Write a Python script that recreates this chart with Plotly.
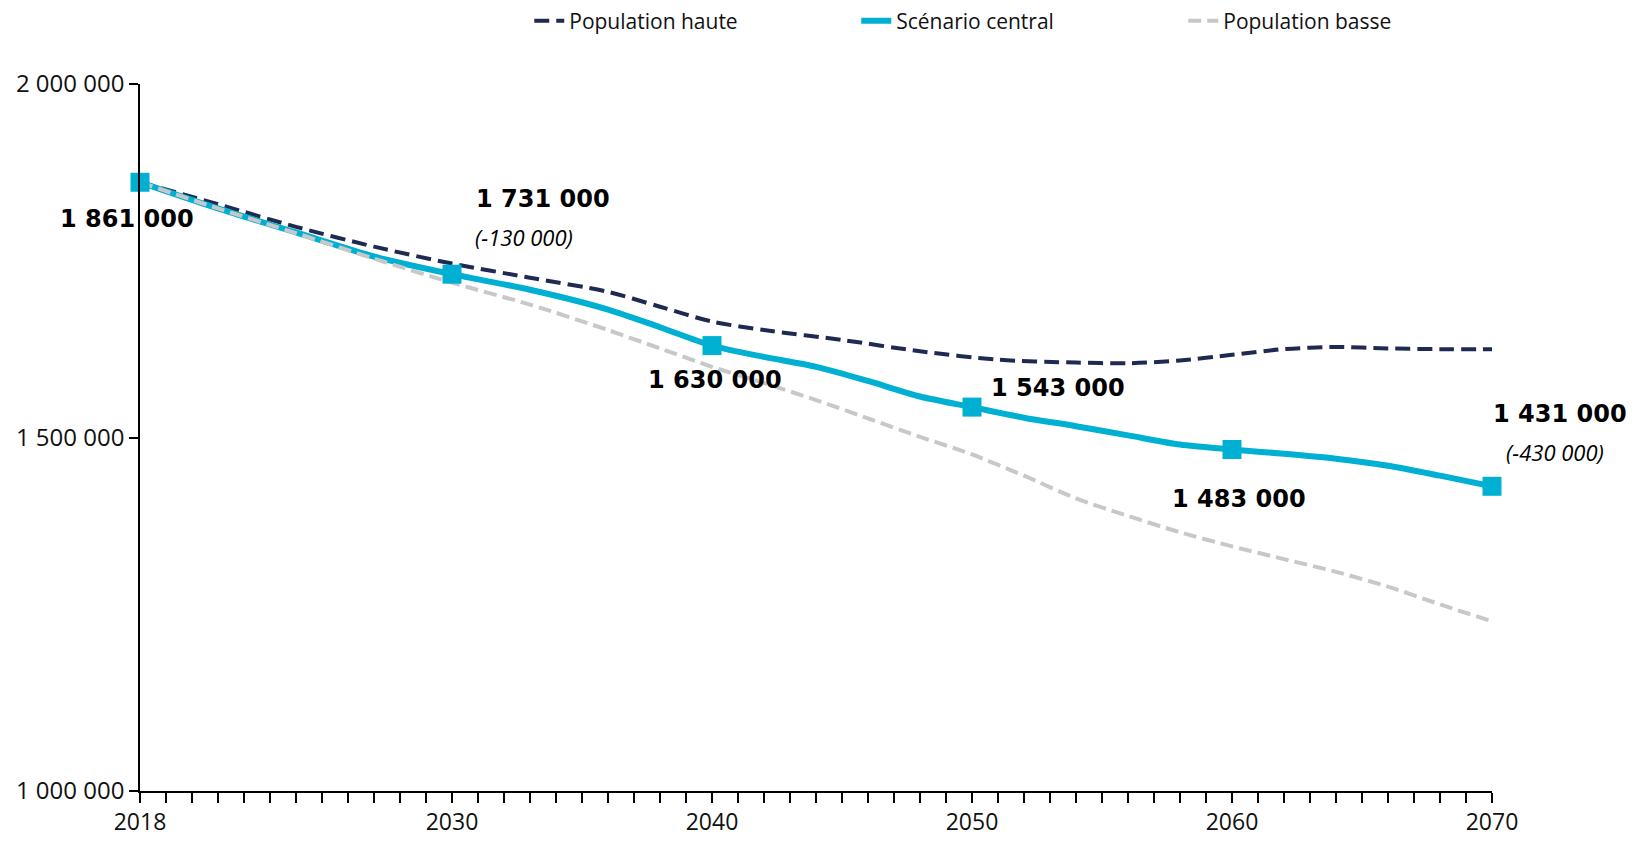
import plotly.graph_objects as go

# ---------------- data ----------------
years_high = [2018, 2021, 2024, 2027, 2030, 2033, 2036, 2038, 2040, 2042, 2045, 2048,
              2051, 2054, 2056, 2058, 2060, 2062, 2064, 2066, 2068, 2070]
pop_high = [1861000, 1830000, 1798000, 1770000, 1746000, 1726000, 1706000, 1685000,
            1664000, 1652000, 1638000, 1622000, 1610000, 1606000, 1605000, 1609000,
            1617000, 1625000, 1628000, 1626000, 1625000, 1625000]

years_central = [2018, 2021, 2024, 2027, 2030, 2033, 2036, 2038, 2040, 2042, 2044, 2046,
                 2048, 2050, 2052, 2054, 2056, 2058, 2060, 2062, 2064, 2066, 2068, 2070]
pop_central = [1861000, 1824000, 1790000, 1756000, 1731000, 1709000, 1681000, 1656000,
               1630000, 1614000, 1600000, 1580000, 1558000, 1543000, 1528000, 1516000,
               1503000, 1490000, 1483000, 1477000, 1470000, 1460000, 1446000, 1431000]

years_low = [2018, 2021, 2024, 2027, 2030, 2033, 2036, 2038, 2040, 2042, 2044, 2046,
             2048, 2050, 2052, 2054, 2056, 2058, 2060, 2062, 2064, 2066, 2068, 2070]
pop_low = [1861000, 1824000, 1789000, 1753000, 1719000, 1688000, 1652000, 1626000,
           1600000, 1577000, 1553000, 1527000, 1501000, 1476000, 1446000, 1414000,
           1389000, 1366000, 1346000, 1328000, 1310000, 1289000, 1264000, 1240000]

marker_years = [2018, 2030, 2040, 2050, 2060, 2070]
marker_values = [1861000, 1731000, 1630000, 1543000, 1483000, 1431000]

change_years = [2030, 2070]
change_values = [1731000, 1431000]
changes = [-130000, -430000]

x_tick_years = [2018, 2030, 2040, 2050, 2060, 2070]
y_tick_values = [1000000, 1500000, 2000000]

series_names = ["Population haute", "Scénario central", "Population basse"]


def fmt(v):
    return f"{v:,}".replace(",", " ")


# ---------------- styles ----------------
NAVY = "#1f2a52"
CYAN = "#00b0d2"
GREY = "#c8c8c8"
FONT = "Open Sans"

fig = go.Figure()

fig.add_trace(go.Scatter(
    x=years_high, y=pop_high, name=series_names[0], mode="lines",
    line=dict(color=NAVY, width=4, dash="15px,7px", shape="spline", smoothing=0.8),
    cliponaxis=False))
fig.add_trace(go.Scatter(
    x=years_central, y=pop_central, name=series_names[1], mode="lines",
    line=dict(color=CYAN, width=6, shape="spline", smoothing=0.8),
    cliponaxis=False))
fig.add_trace(go.Scatter(
    x=years_low, y=pop_low, name=series_names[2], mode="lines",
    line=dict(color=GREY, width=4, dash="13px,6px", shape="spline", smoothing=0.8),
    cliponaxis=False))
fig.add_trace(go.Scatter(
    x=marker_years, y=marker_values, mode="markers", showlegend=False,
    marker=dict(symbol="square", size=19, color=CYAN), cliponaxis=False,
    hoverinfo="skip"))

# value labels (bold)
label_style = [  # xanchor, xshift, yshift
    ("center", -13, -37),
    ("left", 22, 75),
    ("center", 3, -34),
    ("left", 17, 19),
    ("center", 7, -49),
    ("right", 137, 72),
]
for yr, v, (xa, xs, ys) in zip(marker_years, marker_values, label_style):
    fig.add_annotation(
        x=yr, y=v, xref="x", yref="y", text=f"<b>{fmt(v)}</b>", showarrow=False,
        xanchor=xa, yanchor="middle", xshift=xs, yshift=ys,
        font=dict(family="DejaVu Sans", size=24, color="#000000"))

change_style = [(21, 37), (12, 34)]
for yr, v, c, (xs, ys) in zip(change_years, change_values, changes, change_style):
    fig.add_annotation(
        x=yr, y=v, xref="x", yref="y", text=f"<i>({fmt(c)})</i>", showarrow=False,
        xanchor="left", yanchor="middle", xshift=xs, yshift=ys,
        font=dict(family=FONT, size=22, color="#000000"))

fig.update_layout(
    width=1636, height=841,
    margin=dict(l=140, r=144, t=84, b=50, autoexpand=False),
    paper_bgcolor="white", plot_bgcolor="white",
    font=dict(family=FONT, color="#111111"),
    showlegend=True,
    legend=dict(orientation="h", xref="container", yref="container",
                x=0.3235, xanchor="left", y=0.975, yanchor="middle",
                entrywidth=282, font=dict(family=FONT, size=21, color="#111111"),
                bgcolor="rgba(0,0,0,0)"),
    xaxis=dict(
        range=[2018, 2070], showgrid=False, zeroline=False, automargin=False,
        showline=True, linecolor="black", linewidth=1.5,
        tickmode="array", tickvals=x_tick_years, ticktext=[str(y) for y in x_tick_years],
        ticks="outside", ticklen=10, tickwidth=1.5, tickcolor="black",
        ticklabelstandoff=0,
        tickfont=dict(family=FONT, size=23, color="#111111"),
        minor=dict(dtick=1, tick0=2018, ticks="outside", ticklen=10, tickwidth=1.5,
                   tickcolor="black", showgrid=False),
    ),
    yaxis=dict(
        range=[1000000, 2000000], showgrid=False, zeroline=False, automargin=False,
        showline=True, linecolor="black", linewidth=1.5,
        tickmode="array", tickvals=y_tick_values, ticktext=[fmt(v) for v in y_tick_values],
        ticks="outside", ticklen=9, tickwidth=1.5, tickcolor="black",
        tickfont=dict(family=FONT, size=24, color="#111111"),
    ),
)

fig.write_html("out.html", config={"displayModeBar": False},
               post_script="document.body.style.margin='0';")
